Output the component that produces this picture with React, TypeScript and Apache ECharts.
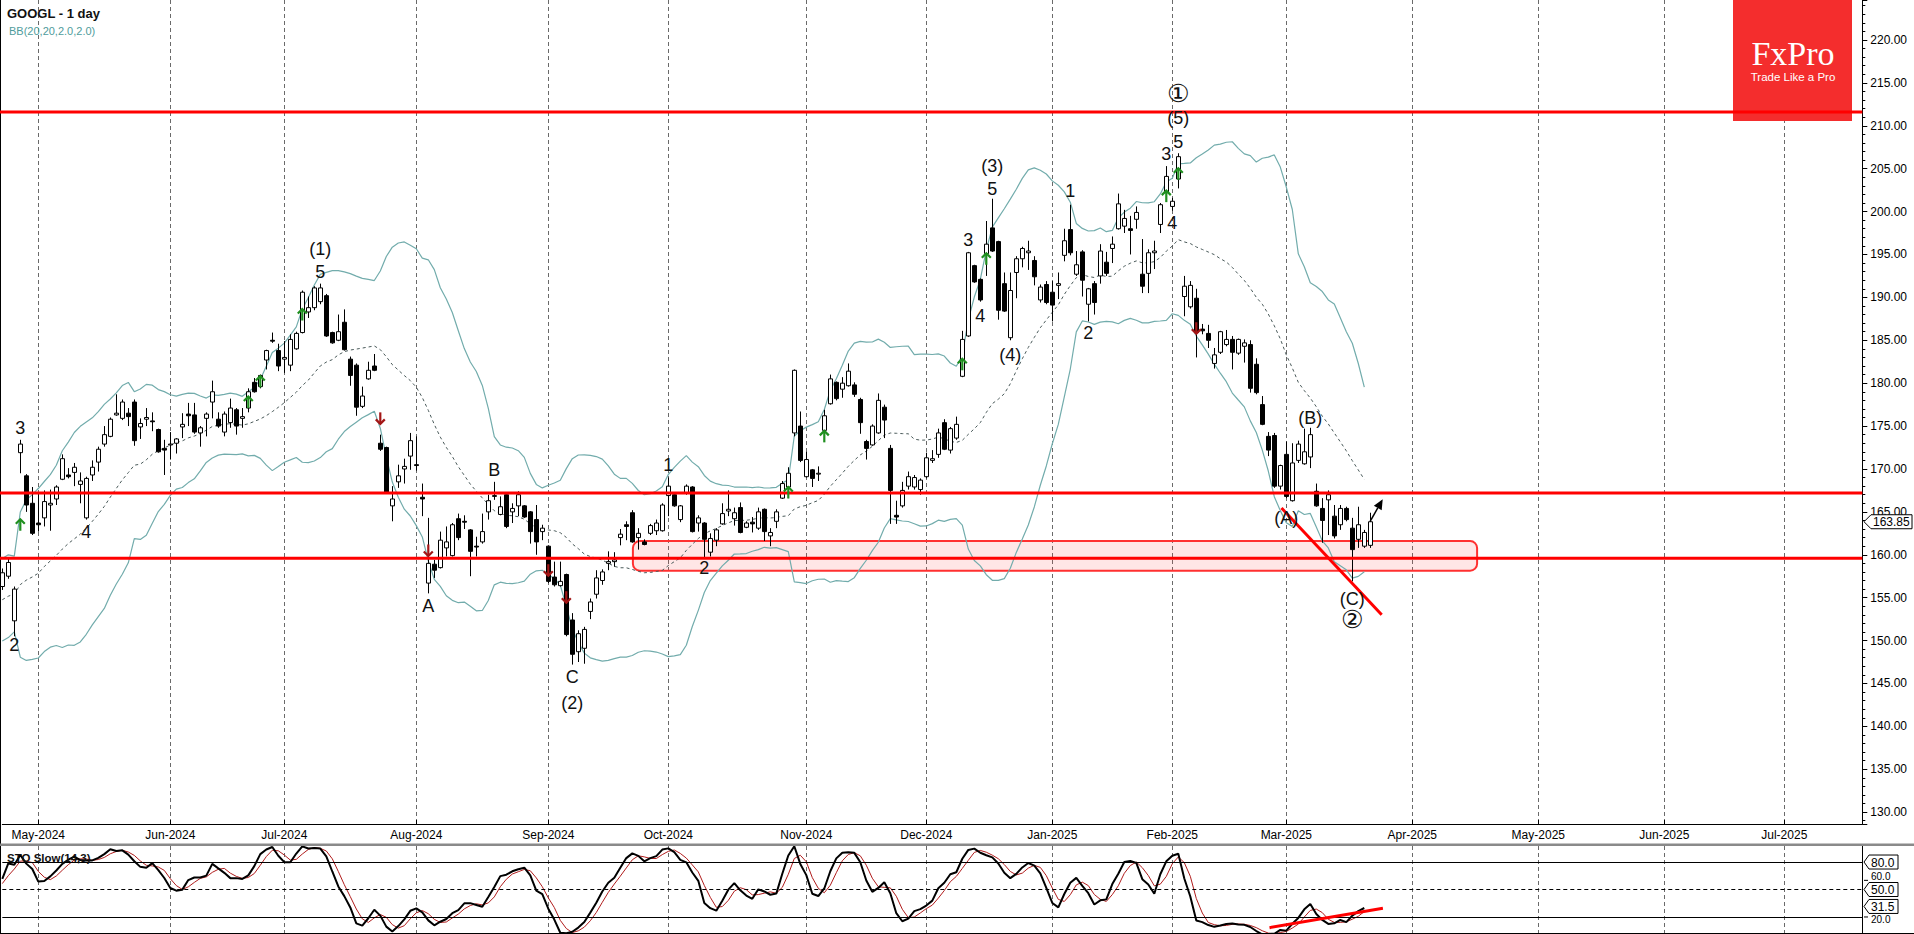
import React, { useEffect, useRef } from "react";
import * as echarts from "echarts";

// ---------- calendar ----------
const START = [2024, 3, 23]; // 2024-04-23 (month 0-based)
const CATEGORY_COUNT = 311;
const holidays = [
  "2024-05-27", "2024-06-19", "2024-07-04", "2024-09-02", "2024-11-28", "2024-12-25",
  "2025-01-01", "2025-01-09", "2025-01-20", "2025-02-17", "2025-04-18", "2025-05-26",
  "2025-06-19", "2025-07-04",
];
const monthNames = ["Jan", "Feb", "Mar", "Apr", "May", "Jun", "Jul", "Aug", "Sep", "Oct", "Nov", "Dec"];

// ---------- candles ----------
const opens = [
  156.3, 157.5, 152.3, 171.9, 169.2, 166.0, 163.7, 164.3, 165.8, 166.5,
  168.8, 169.3, 169.6, 168.2, 164.3, 169.3, 170.8, 172.9, 173.8, 176.3,
  175.9, 176.5, 177.8, 174.9, 175.8, 175.6, 174.6, 172.4, 172.8, 173.0,
  174.9, 176.4, 176.3, 174.2, 175.9, 177.8, 175.8, 174.3, 175.4, 176.9,
  175.9, 177.1, 180.1, 179.6, 182.7, 185.0, 183.8, 182.8, 182.1, 184.0,
  185.9, 188.3, 188.8, 189.5, 190.2, 185.9, 185.0, 187.1, 182.8, 182.1,
  177.3, 180.5, 182.0, 173.0, 172.5, 165.7, 168.5, 170.0, 171.5, 170.5,
  166.7, 156.7, 158.9, 158.5, 160.8, 159.9, 164.2, 163.9, 162.9, 161.0,
  161.5, 165.0, 166.8, 164.7, 167.0, 165.0, 165.7, 165.7, 165.0, 164.1,
  162.7, 161.0, 157.4, 156.4, 157.7, 152.4, 148.7, 149.1, 153.4, 155.4,
  157.0, 159.0, 159.2, 162.0, 163.5, 164.9, 162.0, 161.5, 162.5, 162.8,
  162.8, 166.9, 167.0, 164.1, 167.2, 167.9, 163.7, 163.7, 160.3, 161.7,
  163.6, 165.1, 164.2, 165.5, 163.2, 163.8, 163.1, 165.3, 162.2, 163.9,
  166.6, 167.9, 174.2, 175.0, 169.1, 169.9, 169.4, 174.5, 177.6, 180.1,
  179.3, 179.7, 179.8, 178.1, 173.2, 172.8, 174.2, 177.2, 172.4, 164.6,
  165.7, 168.0, 167.9, 167.6, 169.1, 171.0, 171.7, 175.4, 172.2, 173.6,
  180.8, 185.5, 193.7, 192.1, 195.1, 198.1, 196.5, 191.6, 185.3, 192.9,
  194.5, 195.2, 194.3, 189.7, 191.5, 190.6, 191.4, 194.9, 197.9, 192.7,
  195.3, 189.2, 191.6, 192.5, 194.1, 195.7, 198.0, 198.3, 198.0, 199.1,
  192.7, 192.8, 195.2, 198.5, 202.2, 200.6, 203.8, 190.1, 188.9, 189.9,
  186.3, 185.8, 182.3, 183.6, 184.5, 185.1, 183.5, 184.3, 184.5, 182.2,
  177.5, 173.8, 173.9, 168.0, 171.7, 166.3, 171.0, 170.6, 171.4, 167.4,
  165.4, 166.4, 164.5, 163.5, 165.4, 163.1, 161.8, 161.0, 161.1,
];
const highs = [
  158.4, 159.6, 156.3, 173.4, 169.4, 167.9, 167.2, 167.5, 167.6, 168.1,
  171.7, 170.1, 170.7, 169.6, 169.1, 171.0, 172.6, 175.0, 176.0, 178.7,
  178.1, 177.1, 178.1, 175.9, 177.1, 176.6, 174.7, 173.4, 174.3, 173.6,
  176.5, 177.7, 177.7, 175.0, 176.6, 180.3, 176.6, 176.7, 178.2, 177.1,
  177.1, 179.4, 180.6, 181.0, 183.9, 185.9, 184.6, 184.9, 185.7, 186.0,
  190.8, 190.1, 191.3, 191.6, 190.4, 186.0, 188.0, 188.6, 183.1, 182.3,
  179.6, 182.5, 183.4, 174.0, 172.6, 168.0, 170.5, 171.2, 174.2, 173.8,
  168.3, 164.3, 159.4, 162.7, 163.3, 163.7, 164.8, 164.6, 163.0, 162.1,
  164.8, 167.0, 168.5, 166.8, 167.2, 166.0, 167.4, 165.8, 165.1, 165.8,
  163.5, 161.1, 159.2, 159.2, 157.8, 153.2, 151.2, 151.6, 154.9, 158.2,
  158.3, 160.4, 160.3, 163.0, 163.9, 165.2, 163.1, 161.8, 163.6, 164.1,
  166.0, 169.0, 167.1, 165.8, 168.2, 168.0, 164.6, 163.8, 162.5, 163.1,
  166.0, 167.5, 165.5, 166.1, 163.9, 164.4, 165.5, 165.4, 163.1, 165.3,
  168.6, 170.2, 181.6, 176.7, 172.0, 170.0, 170.3, 176.9, 181.0, 180.2,
  180.7, 182.3, 180.1, 178.3, 173.4, 175.2, 178.8, 177.5, 172.8, 166.3,
  168.5, 169.7, 169.3, 168.9, 171.9, 172.2, 174.7, 175.8, 174.9, 176.1,
  186.1, 195.3, 193.8, 192.2, 198.9, 201.5, 196.6, 192.9, 192.9, 194.8,
  195.9, 196.6, 194.8, 191.5, 191.9, 191.9, 192.9, 198.0, 200.8, 195.4,
  195.5, 191.1, 191.9, 196.2, 195.3, 197.1, 202.1, 200.2, 199.5, 200.6,
  196.8, 195.6, 196.6, 201.0, 205.3, 201.6, 206.8, 192.5, 191.9, 191.0,
  186.9, 186.8, 184.1, 186.1, 186.2, 185.5, 185.2, 185.1, 185.0, 182.9,
  178.5, 174.3, 174.2, 170.5, 173.2, 173.0, 173.3, 174.7, 174.8, 168.3,
  166.6, 167.5, 165.8, 165.8, 165.6, 164.3, 165.6, 162.9, 164.9,
];
const lows = [
  155.9, 157.2, 150.5, 169.5, 165.0, 162.3, 162.7, 163.3, 162.8, 165.8,
  168.7, 168.9, 168.0, 166.0, 164.1, 168.6, 169.7, 172.6, 173.7, 176.2,
  175.7, 175.0, 172.7, 173.5, 175.0, 174.4, 171.9, 169.3, 171.1, 171.8,
  173.6, 175.0, 174.1, 172.6, 173.8, 175.9, 174.8, 173.8, 174.8, 174.0,
  174.8, 176.6, 178.9, 179.4, 181.6, 184.7, 181.4, 181.2, 181.4, 183.9,
  185.8, 187.6, 188.5, 189.2, 185.4, 184.6, 184.9, 183.8, 179.7, 176.2,
  177.1, 180.4, 181.4, 172.1, 167.2, 163.9, 167.8, 168.3, 169.9, 169.8,
  164.5, 155.5, 157.3, 158.4, 159.8, 159.8, 161.7, 163.0, 157.5, 159.8,
  161.3, 164.1, 166.4, 164.6, 163.1, 163.7, 164.5, 164.3, 161.3, 160.0,
  161.7, 156.7, 156.3, 156.3, 150.5, 147.2, 147.5, 147.3, 152.5, 154.9,
  156.5, 158.2, 158.6, 161.1, 161.7, 161.4, 160.6, 161.1, 162.3, 162.3,
  162.7, 164.5, 165.6, 163.8, 167.0, 162.6, 162.7, 159.7, 159.8, 161.0,
  163.5, 164.5, 163.4, 162.5, 163.1, 162.6, 162.9, 161.6, 161.0, 163.1,
  166.5, 166.6, 173.8, 170.8, 169.0, 167.9, 168.6, 173.2, 177.5, 178.0,
  178.3, 179.6, 178.4, 174.1, 171.1, 172.7, 174.1, 173.6, 163.6, 163.6,
  165.5, 167.6, 167.6, 167.0, 168.9, 170.7, 171.3, 172.2, 171.8, 173.4,
  180.7, 185.4, 191.7, 189.5, 192.5, 195.3, 187.4, 188.3, 185.0, 189.9,
  193.5, 193.2, 191.4, 189.4, 189.2, 187.2, 189.8, 194.2, 194.9, 192.5,
  190.1, 187.2, 188.0, 191.6, 192.5, 194.0, 197.9, 197.5, 195.0, 198.0,
  190.5, 190.5, 193.3, 197.5, 201.2, 200.1, 202.7, 187.8, 188.7, 183.0,
  185.7, 184.1, 181.7, 183.4, 184.3, 181.6, 183.3, 182.4, 178.9, 178.7,
  175.1, 171.5, 167.8, 167.6, 166.6, 166.2, 170.7, 170.5, 170.1, 165.6,
  161.4, 162.3, 161.9, 162.9, 163.9, 156.9, 160.8, 160.8, 160.8,
];
const closes = [
  157.9, 159.1, 156.0, 172.9, 165.8, 162.5, 163.5, 166.2, 166.0, 167.9,
  171.2, 169.1, 170.2, 168.6, 168.9, 170.2, 172.3, 174.0, 175.8, 176.5,
  177.8, 176.1, 173.3, 175.3, 176.0, 175.5, 172.0, 172.2, 172.9, 173.5,
  175.2, 176.2, 174.3, 174.8, 176.4, 179.0, 175.0, 176.4, 177.1, 175.0,
  176.1, 179.0, 179.0, 180.9, 183.8, 184.9, 182.0, 183.0, 185.1, 185.8,
  190.6, 188.8, 191.1, 191.1, 185.5, 184.7, 186.0, 183.9, 180.9, 177.2,
  178.5, 181.5, 181.5, 172.3, 167.3, 166.5, 169.2, 170.3, 173.3, 170.4,
  166.5, 159.0, 158.2, 161.7, 161.5, 163.5, 162.0, 163.8, 160.4, 160.9,
  162.7, 166.3, 166.9, 165.6, 163.3, 165.4, 167.0, 164.4, 162.7, 161.5,
  163.1, 156.9, 156.5, 156.9, 150.7, 148.4, 150.8, 151.3, 154.5, 157.3,
  158.0, 159.2, 159.4, 162.4, 163.3, 161.5, 162.5, 161.2, 163.4, 163.7,
  165.8, 168.0, 165.7, 165.7, 168.0, 162.7, 164.3, 161.8, 161.9, 162.9,
  164.8, 165.3, 164.9, 162.6, 163.7, 163.6, 165.0, 162.7, 162.6, 165.0,
  168.3, 169.5, 181.5, 171.0, 171.1, 168.9, 169.5, 176.2, 180.5, 178.2,
  180.0, 181.4, 178.7, 175.4, 172.4, 175.0, 178.0, 175.7, 167.5, 164.4,
  167.5, 169.1, 169.0, 168.7, 171.3, 171.2, 174.2, 172.3, 174.7, 175.2,
  185.1, 195.2, 191.8, 189.7, 196.2, 195.4, 188.5, 188.4, 190.8, 194.5,
  195.7, 195.4, 192.4, 191.2, 189.4, 189.1, 191.6, 196.6, 195.2, 193.8,
  192.0, 191.0, 189.4, 195.4, 192.8, 196.2, 200.9, 199.2, 197.8, 199.9,
  191.3, 195.2, 195.4, 200.8, 204.1, 201.2, 206.4, 191.3, 191.4, 185.9,
  186.1, 185.0, 183.3, 186.0, 185.1, 183.6, 185.1, 184.7, 179.4, 178.9,
  175.2, 172.2, 168.0, 170.4, 166.8, 170.7, 172.9, 172.0, 174.0, 165.7,
  164.0, 167.0, 162.2, 165.4, 164.1, 160.6, 163.5, 162.6, 163.85,
];

// bars before the first visible one, only used to warm up the indicators
const warmupHighs = [151.0, 151.4, 151.0, 151.4, 156.0, 155.5, 155.8, 156.4, 153.5, 155.4, 157.2, 156.8, 159.9, 159.5, 159.0, 156.5, 156.3, 156.9, 156.5, 157.6];
const warmupLows = [148.9, 149.7, 149.2, 150.2, 150.8, 153.4, 153.5, 150.4, 150.0, 153.0, 154.5, 154.3, 156.0, 156.8, 154.2, 153.9, 154.3, 154.9, 153.2, 154.5];
const warmupCloses = [150.0, 150.9, 150.9, 150.9, 155.5, 155.0, 154.9, 150.5, 153.0, 154.9, 156.6, 156.1, 159.4, 157.5, 154.9, 154.4, 155.5, 156.0, 154.1, 156.3];

// ---------- annotations ----------
const levelPrices = [211.6, 167.2, 159.6];
const zoneIndex = [105.1, 245.8];
const zonePrice = [161.6, 158.15];
const trendIndex = [213.2, 229.9];
const trendPrice = [165.44, 153.0];
const arrowIndex = [227.95, 230.07];
const arrowPrice = [163.86, 166.47];
const stoTrendIndex = [211.2, 230.1];
const stoTrendValue = [8.3, 29.6];
const greenIdx = [3, 41, 43, 50, 131, 137, 160, 164, 194, 196];
const greenPrice = [164.2, 178.5, 180.9, 188.7, 167.96, 174.5, 182.9, 195.2, 202.5, 205.1];
const redIdx = [63, 71, 91, 94, 199];
const redPrice = [175.2, 159.8, 157.5, 154.35, 185.7];
const waveText = ["3", "2", "4", "(1)", "5", "A", "B", "C", "(2)", "1", "2", "(3)", "5", "3", "4", "(4)", "1", "2", "3", "5", "4", "(5)", "①", "(B)", "(A)", "(C)", "②"];
const waveIdx = [3, 2, 14, 53, 53, 71, 82, 95, 95, 111, 117, 165, 165, 161, 163, 168, 178, 181, 194, 196, 195, 196, 196, 218, 214, 225, 225];
const wavePrice = [174.8, 149.5, 162.6, 195.6, 192.9, 154.0, 169.9, 145.8, 142.7, 170.5, 158.4, 205.3, 202.6, 196.7, 187.8, 183.3, 202.4, 185.9, 206.7, 208.1, 198.7, 210.9, 213.8, 175.9, 164.3, 154.9, 152.4];
const lastPrice = 163.85;
const stoTagValues = [80, 50, 31.5];
const stoTagText = ["80.0", "50.0", "31.5"];
const stoAxisValues = [60, 20];
const stoAxisText = ["60.0", "20.0"];

// ---------- helpers ----------
function buildDates(): string[] {
  const out: string[] = [];
  const d = new Date(Date.UTC(START[0], START[1], START[2]));
  while (out.length < CATEGORY_COUNT) {
    const wd = d.getUTCDay();
    const s = d.toISOString().slice(0, 10);
    if (wd !== 0 && wd !== 6 && holidays.indexOf(s) < 0) out.push(s);
    d.setUTCDate(d.getUTCDate() + 1);
  }
  return out;
}

const dates = buildDates();
const monthStart = dates.map((s, i) => i > 0 && s.slice(5, 7) !== dates[i - 1].slice(5, 7));
const monthLabel = (s: string) => monthNames[parseInt(s.slice(5, 7), 10) - 1] + "-" + s.slice(0, 4);

const W = warmupCloses.length;
const allC = [...warmupCloses, ...closes];
const allH = [...warmupHighs, ...highs];
const allL = [...warmupLows, ...lows];
const LAST_IND = closes.length - 2;

function bollinger() {
  const up: any[] = [], mid: any[] = [], lo: any[] = [];
  for (let i = 0; i < CATEGORY_COUNT; i++) {
    if (i > LAST_IND) { up.push("-"); mid.push("-"); lo.push("-"); continue; }
    const j = i + W;
    const win = allC.slice(j - 19, j + 1);
    const m = win.reduce((a, b) => a + b, 0) / win.length;
    const sd = Math.sqrt(win.reduce((a, b) => a + (b - m) * (b - m), 0) / win.length);
    up.push(+(m + 2 * sd).toFixed(3));
    mid.push(+m.toFixed(3));
    lo.push(+(m - 2 * sd).toFixed(3));
  }
  return { up, mid, lo };
}

function stochastic() {
  const num: number[] = [], den: number[] = [], k: number[] = [];
  for (let j = 0; j < allC.length; j++) {
    if (j < 13) { num.push(NaN); den.push(NaN); continue; }
    let ll = Infinity, hh = -Infinity;
    for (let t = j - 13; t <= j; t++) { ll = Math.min(ll, allL[t]); hh = Math.max(hh, allH[t]); }
    num.push(allC[j] - ll);
    den.push(hh - ll);
  }
  for (let j = 0; j < allC.length; j++) {
    if (j < 15) { k.push(NaN); continue; }
    const n = num[j] + num[j - 1] + num[j - 2];
    const d = den[j] + den[j - 1] + den[j - 2];
    k.push(d > 0 ? (100 * n) / d : 50);
  }
  const K: any[] = [], D: any[] = [];
  for (let i = 0; i < CATEGORY_COUNT; i++) {
    if (i > LAST_IND) { K.push("-"); D.push("-"); continue; }
    const j = i + W;
    K.push(+k[j].toFixed(2));
    D.push(+((k[j] + k[j - 1] + k[j - 2]) / 3).toFixed(2));
  }
  return { K, D };
}

const FONT = "Arial, 'Liberation Sans', sans-serif";

function buildOption() {
  const bb = bollinger();
  const st = stochastic();
  const candles = closes.map((c, i) => [opens[i], c, lows[i], highs[i]]);
  const grid = { left: 2.3, right: 51.7 };
  const vSplit = {
    show: true,
    interval: (idx: number) => monthStart[idx],
    lineStyle: { color: "#6a6a6a", type: [4, 3], width: 1 },
  };
  return {
    animation: false,
    backgroundColor: "#ffffff",
    grid: [
      { ...grid, top: 0, height: 824, outerBoundsMode: "none", containLabel: false },
      { ...grid, top: 846, height: 87, outerBoundsMode: "none", containLabel: false },
    ],
    xAxis: [
      {
        type: "category", gridIndex: 0, data: dates, boundaryGap: false,
        axisLine: { show: true, lineStyle: { color: "#000", width: 1 } },
        axisTick: { show: true, inside: true, length: 4, interval: (idx: number) => monthStart[idx], lineStyle: { color: "#000" } },
        axisLabel: {
          interval: (idx: number) => monthStart[idx],
          formatter: (v: string) => monthLabel(v),
          fontSize: 12, color: "#000", fontFamily: FONT, margin: 5,
        },
        splitLine: vSplit,
      },
      {
        type: "category", gridIndex: 1, data: dates, boundaryGap: false,
        axisLine: { show: false }, axisTick: { show: false }, axisLabel: { show: false },
        splitLine: vSplit,
      },
    ],
    yAxis: [
      {
        type: "value", gridIndex: 0, position: "right", min: 128.62, max: 224.66,
        splitNumber: 19, minInterval: 5, maxInterval: 5,
        axisLine: { show: true, lineStyle: { color: "#000" } },
        axisTick: { show: true, length: 5, lineStyle: { color: "#000" } },
        minorTick: { show: true, splitNumber: 5, length: 3, lineStyle: { color: "#000" } },
        axisLabel: {
          formatter: (v: number) => v.toFixed(2), showMinLabel: false, showMaxLabel: false,
          fontSize: 12, color: "#000", fontFamily: FONT, margin: 8,
        },
        splitLine: { show: false },
      },
      {
        type: "value", gridIndex: 1, position: "right", min: 2.5, max: 97.5,
        axisLine: { show: true, lineStyle: { color: "#000" } },
        axisTick: { show: false }, axisLabel: { show: false }, splitLine: { show: false },
      },
    ],
    series: [
      { type: "line", xAxisIndex: 0, yAxisIndex: 0, data: bb.up, symbol: "none", z: 2, silent: true, lineStyle: { color: "#72acac", width: 1.2 } },
      { type: "line", xAxisIndex: 0, yAxisIndex: 0, data: bb.lo, symbol: "none", z: 2, silent: true, lineStyle: { color: "#72acac", width: 1.2 } },
      { type: "line", xAxisIndex: 0, yAxisIndex: 0, data: bb.mid, symbol: "none", z: 2, silent: true, lineStyle: { color: "#4a5a5a", width: 1, type: [3, 3] } },
      {
        type: "candlestick", xAxisIndex: 0, yAxisIndex: 0, data: candles, barWidth: 4, z: 3,
        itemStyle: { color: "#ffffff", color0: "#000000", borderColor: "#000000", borderColor0: "#000000", borderWidth: 1 },
      },
      {
        type: "line", xAxisIndex: 1, yAxisIndex: 1, data: st.D, symbol: "none", z: 3, silent: true,
        lineStyle: { color: "#b01c1c", width: 1 },
      },
      {
        type: "line", xAxisIndex: 1, yAxisIndex: 1, data: st.K, symbol: "none", z: 4, silent: true,
        lineStyle: { color: "#000", width: 2 },
        markLine: {
          silent: true, symbol: "none", label: { show: false },
          lineStyle: { color: "#000", width: 1, type: "solid" },
          data: [
            { yAxis: 80 },
            { yAxis: 50, lineStyle: { type: [4, 3], color: "#000", width: 1 } },
            { yAxis: 20 },
          ],
        },
      },
    ],
  };
}

function buildOverlay(chart: any) {
  const a = chart.convertToPixel({ gridIndex: 0 }, [0, 150]);
  const b = chart.convertToPixel({ gridIndex: 0 }, [100, 200]);
  const step = (b[0] - a[0]) / 100;
  const X = (i: number) => a[0] + step * i;
  const Y = (p: number) => chart.convertToPixel({ gridIndex: 0 }, [0, p])[1];
  const SY = (v: number) => chart.convertToPixel({ gridIndex: 1 }, [0, v])[1];
  const xRight = X(CATEGORY_COUNT - 1);
  const els: any[] = [];

  // frame
  els.push({ type: "line", z: 30, shape: { x1: 0.5, y1: 0, x2: 0.5, y2: 934 }, style: { stroke: "#000", lineWidth: 1 } });
  els.push({ type: "rect", z: 30, shape: { x: 0, y: 843.5, width: 1914, height: 2.5 }, style: { fill: "#8a8a8a" } });
  els.push({ type: "line", z: 30, shape: { x1: 0, y1: 933.5, x2: 1914, y2: 933.5 }, style: { stroke: "#000", lineWidth: 1 } });

  // zone
  const zx1 = X(zoneIndex[0]), zx2 = X(zoneIndex[1]);
  const zy1 = Y(zonePrice[0]), zy2 = Y(zonePrice[1]);
  els.push({
    type: "rect", z: 1, shape: { x: zx1, y: zy1, width: zx2 - zx1, height: zy2 - zy1, r: 7 },
    style: { fill: "rgba(255,60,60,0.13)", stroke: "#ff3030", lineWidth: 2 },
  });

  // logo
  els.push({ type: "rect", z: 40, shape: { x: 1733, y: 0, width: 119, height: 121 }, style: { fill: "#f42d2d" } });
  els.push({ type: "text", z: 41, x: 1793, y: 53, style: { text: "FxPro", fill: "#fff", fontSize: 34, fontFamily: "'Liberation Serif', 'DejaVu Serif', serif", align: "center", verticalAlign: "middle" } });
  els.push({ type: "text", z: 41, x: 1793, y: 77, style: { text: "Trade Like a Pro", fill: "#fff", fontSize: 11.5, fontFamily: FONT, align: "center", verticalAlign: "middle" } });

  // horizontal levels
  levelPrices.forEach((p) => {
    const y = Y(p);
    els.push({ type: "line", z: 50, shape: { x1: 0, y1: y, x2: xRight, y2: y }, style: { stroke: "#ff0000", lineWidth: 3 } });
  });

  // trend line
  els.push({
    type: "line", z: 51,
    shape: { x1: X(trendIndex[0]), y1: Y(trendPrice[0]), x2: X(trendIndex[1]), y2: Y(trendPrice[1]) },
    style: { stroke: "#ff0000", lineWidth: 3 },
  });

  // black arrow
  {
    const x1 = X(arrowIndex[0]), y1 = Y(arrowPrice[0]), x2 = X(arrowIndex[1]), y2 = Y(arrowPrice[1]);
    const dx = x2 - x1, dy = y2 - y1, len = Math.hypot(dx, dy);
    const ux = dx / len, uy = dy / len;
    const hl = 10, hw = 4.5;
    const bx = x2 - ux * hl, by = y2 - uy * hl;
    els.push({ type: "line", z: 52, shape: { x1, y1, x2: bx, y2: by }, style: { stroke: "#000", lineWidth: 1.5 } });
    els.push({
      type: "polygon", z: 52,
      shape: { points: [[x2, y2], [bx - uy * hw, by + ux * hw], [bx + uy * hw, by - ux * hw]] },
      style: { fill: "#000" },
    });
  }

  // signal arrows
  greenIdx.forEach((i, k) => {
    const x = X(i), t = Y(greenPrice[k]);
    els.push({ type: "line", z: 55, shape: { x1: x, y1: t + 1, x2: x, y2: t + 12 }, style: { stroke: "#1f8f1f", lineWidth: 2.2 } });
    els.push({ type: "polyline", z: 55, shape: { points: [[x - 4.5, t + 5], [x, t + 0.5], [x + 4.5, t + 5]] }, style: { stroke: "#1f8f1f", lineWidth: 2.2, fill: null } });
  });
  redIdx.forEach((i, k) => {
    const x = X(i), t = Y(redPrice[k]);
    els.push({ type: "line", z: 55, shape: { x1: x, y1: t - 12, x2: x, y2: t - 1 }, style: { stroke: "#a31616", lineWidth: 2.2 } });
    els.push({ type: "polyline", z: 55, shape: { points: [[x - 4.5, t - 5], [x, t - 0.5], [x + 4.5, t - 5]] }, style: { stroke: "#a31616", lineWidth: 2.2, fill: null } });
  });

  // wave labels
  waveText.forEach((t, k) => {
    const circled = t === "①" || t === "②";
    els.push({
      type: "text", z: 60, x: X(waveIdx[k]), y: Y(wavePrice[k]),
      style: {
        text: t, fill: "#111", fontSize: circled ? 25 : 18,
        fontFamily: circled ? "'DejaVu Sans', 'Noto Sans CJK SC', sans-serif" : FONT,
        align: "center", verticalAlign: "middle",
      },
    });
  });

  // current price tag
  {
    const y = Y(lastPrice);
    els.push({
      type: "polygon", z: 70,
      shape: { points: [[1864, y], [1871, y - 7], [1912, y - 7], [1912, y + 7], [1871, y + 7]] },
      style: { fill: "#fff", stroke: "#000", lineWidth: 1 },
    });
    els.push({ type: "text", z: 71, x: 1873, y: y + 0.5, style: { text: lastPrice.toFixed(2), fill: "#000", fontSize: 12, fontFamily: FONT, align: "left", verticalAlign: "middle" } });
  }

  // stochastic axis texts (partly tucked behind the tags, as in the original)
  const axisOffsets = [-3.5, 3];
  stoAxisValues.forEach((v, k) => {
    els.push({ type: "line", z: 69, shape: { x1: 1864, y1: SY(v), x2: 1868, y2: SY(v) }, style: { stroke: "#000", lineWidth: 1 } });
    els.push({ type: "text", z: 69, x: 1871, y: SY(v) + axisOffsets[k], style: { text: stoAxisText[k], fill: "#000", fontSize: 10, fontFamily: FONT, align: "left", verticalAlign: "middle" } });
  });
  stoTagValues.forEach((v, k) => {
    const y = SY(v);
    els.push({
      type: "polygon", z: 70,
      shape: { points: [[1864, y], [1869, y - 7], [1898, y - 7], [1898, y + 7], [1869, y + 7]] },
      style: { fill: "#fff", stroke: "#000", lineWidth: 1 },
    });
    els.push({ type: "text", z: 71, x: 1871, y: y + 0.5, style: { text: stoTagText[k], fill: "#000", fontSize: 12, fontFamily: FONT, align: "left", verticalAlign: "middle" } });
  });

  // stochastic trend line
  els.push({
    type: "line", z: 60,
    shape: { x1: X(stoTrendIndex[0]), y1: SY(stoTrendValue[0]), x2: X(stoTrendIndex[1]), y2: SY(stoTrendValue[1]) },
    style: { stroke: "#ff0000", lineWidth: 3 },
  });

  // titles
  els.push({ type: "text", z: 80, x: 7, y: 13, style: { text: "GOOGL - 1 day", fill: "#111", fontSize: 13, fontWeight: "bold", fontFamily: FONT, align: "left", verticalAlign: "middle" } });
  els.push({ type: "text", z: 80, x: 9, y: 31, style: { text: "BB(20,20,2.0,2.0)", fill: "#4f9c9c", fontSize: 11, fontFamily: FONT, align: "left", verticalAlign: "middle" } });
  els.push({ type: "text", z: 80, x: 7, y: 858, style: { text: "STO Slow(14,3)", fill: "#111", fontSize: 11.5, fontWeight: "bold", fontFamily: FONT, align: "left", verticalAlign: "middle" } });

  return els;
}

export default function App() {
  const ref = useRef<HTMLDivElement>(null);
  useEffect(() => {
    if (!ref.current) return;
    const chart = echarts.init(ref.current, undefined, { renderer: "svg" });
    chart.setOption(buildOption() as any);
    chart.setOption({ graphic: buildOverlay(chart) } as any);
    return () => chart.dispose();
  }, []);
  return (
    <div
      ref={ref}
      style={{ position: "fixed", left: 0, top: 0, width: 1914, height: 934, background: "#fff" }}
    />
  );
}
